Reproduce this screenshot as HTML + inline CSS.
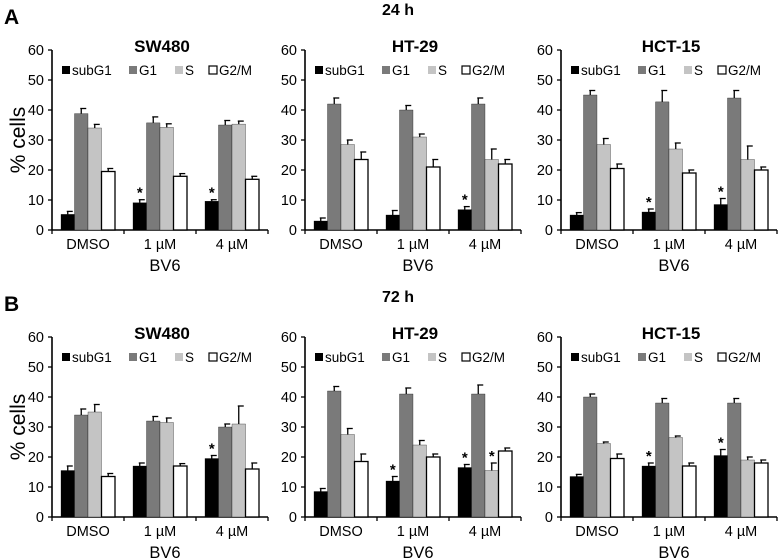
<!DOCTYPE html>
<html><head><meta charset="utf-8">
<style>
html,body{margin:0;padding:0;background:#fff;}
svg{display:block;font-family:"Liberation Sans",Arial,sans-serif;}
</style></head>
<body>
<svg id="fig" width="779" height="560" viewBox="0 0 779 560">
<text x="4" y="24" font-size="21" font-weight="bold">A</text>
<text x="398" y="15" font-size="16" font-weight="bold" text-anchor="middle">24 h</text>
<text x="4" y="311" font-size="21" font-weight="bold">B</text>
<text x="398" y="302" font-size="16" font-weight="bold" text-anchor="middle">72 h</text>
</svg>
<script>
const categories = ["DMSO","1 µM","4 µM"];
const seriesNames = ["subG1","G1","S","G2/M"];
const yTicks = [0,10,20,30,40,50,60];
const cellLines = ["SW480","HT-29","HCT-15"];
const valuesA_SW480 = [[5.2,38.8,34,19.5],[9.1,35.7,34.2,17.9],[9.6,35,35.3,16.9]];
const errorsA_SW480 = [[1,1.7,1.2,1],[1,2,1.2,0.9],[0.5,1.5,1,1]];
const starsA_SW480 = [[0,0,0,0],[1,0,0,0],[1,0,0,0]];
const valuesA_HT29 = [[3,42,28.5,23.5],[5,40,31,21],[6.8,42,23.5,22]];
const errorsA_HT29 = [[1,2,1.5,2.5],[1.5,1.5,1,2.5],[1,2,3.5,1.5]];
const starsA_HT29 = [[0,0,0,0],[0,0,0,0],[1,0,0,0]];
const valuesA_HCT15 = [[5,45,28.5,20.5],[6,42.7,27,19],[8.5,44,23.5,20]];
const errorsA_HCT15 = [[0.8,1.5,2,1.5],[1,3.8,2,1],[2,2.5,4.5,1]];
const starsA_HCT15 = [[0,0,0,0],[1,0,0,0],[1,0,0,0]];
const valuesB_SW480 = [[15.5,34,35,13.5],[17,32,31.5,17],[19.5,30,31,16]];
const errorsB_SW480 = [[1.5,2,2.5,1],[1,1.5,1.5,0.8],[1,1,6,2]];
const starsB_SW480 = [[0,0,0,0],[0,0,0,0],[1,0,0,0]];
const valuesB_HT29 = [[8.5,42,27.5,18.5],[12,41,24,20],[16.5,41,15.5,22]];
const errorsB_HT29 = [[1,1.5,2,2.5],[1.5,2,1.5,1],[1,3,2.5,1]];
const starsB_HT29 = [[0,0,0,0],[1,0,0,0],[1,0,1,0]];
const valuesB_HCT15 = [[13.5,40,24.5,19.5],[17,38,26.5,17],[20.5,38,19,18]];
const errorsB_HCT15 = [[0.7,1,0.5,1.5],[1,1.5,0.5,1],[2,1.5,1,1]];
const starsB_HCT15 = [[0,0,0,0],[1,0,0,0],[1,0,0,0]];

const colors = ["#000000","#7a7a7a","#c4c4c4","#ffffff"];
const NS = "http://www.w3.org/2000/svg";
const svg = document.getElementById("fig");
function mk(tag, attrs, parent){
  const e = document.createElementNS(NS, tag);
  for (const k in attrs) e.setAttribute(k, attrs[k]);
  (parent||svg).appendChild(e);
  return e;
}
const panels = [
  {row:"a", y0:230, titleY:52, legY:75, catY:249, bv6Y:271, data:[[valuesA_SW480,errorsA_SW480,starsA_SW480],[valuesA_HT29,errorsA_HT29,starsA_HT29],[valuesA_HCT15,errorsA_HCT15,starsA_HCT15]]},
  {row:"b", y0:517, titleY:339, legY:362, catY:536, bv6Y:558, data:[[valuesB_SW480,errorsB_SW480,starsB_SW480],[valuesB_HT29,errorsB_HT29,starsB_HT29],[valuesB_HCT15,errorsB_HCT15,starsB_HCT15]]}
];
const axisX = [52,305,561];
const groupW = 72, barW = 13.5, pxPerUnit = 3;

panels.forEach(p=>{
  const yl = mk("text",{x:25,y:p.y0-90,"font-size":21,"text-anchor":"middle",transform:`rotate(-90 25 ${p.y0-90})`});
  
  
  yl.textContent = "% cells";
  cellLines.forEach((cl,ci)=>{
    const ax = axisX[ci];
    const yS = v => p.y0 - v*pxPerUnit;
    const xG = g => ax + g*groupW + groupW/2;
    const g = mk("g",{});
    
    
    const t = mk("text",{x:ax+110,y:p.titleY,"font-size":17,"font-weight":"bold","text-anchor":"middle"},g);
    
    
    t.textContent = cl;
    const yaxis = mk("line",{x1:ax,x2:ax,y1:yS(60),y2:p.y0,stroke:"#000","stroke-width":1.6},g);
    
    
    const xaxis = mk("line",{x1:ax,x2:ax+groupW*3,y1:p.y0,y2:p.y0,stroke:"#000","stroke-width":1.6},g);
    
    
    yTicks.forEach(v=>{
      mk("line",{x1:ax-4,x2:ax,y1:yS(v),y2:yS(v),stroke:"#000","stroke-width":1.3},g);
      const tl = mk("text",{x:ax-8,y:yS(v)+5,"font-size":14.5,"text-anchor":"end"},g);
      
      
      tl.textContent = v;
    });
    for (let k=0;k<=3;k++){
      mk("line",{x1:ax+k*groupW,x2:ax+k*groupW,y1:p.y0,y2:p.y0+4,stroke:"#000","stroke-width":1.3},g);
    }
    categories.forEach((c,gi)=>{
      const cl2 = mk("text",{x:xG(gi),y:p.catY,"font-size":14.5,"text-anchor":"middle"},g);
      
      
      cl2.textContent = c;
    });
    const bv = mk("text",{x:xG(1)+5,y:p.bv6Y,"font-size":16.5,"text-anchor":"middle"},g);
    
    
    bv.textContent = "BV6";
    const legX = [ax+10, ax+77, ax+123, ax+157];
    seriesNames.forEach((s,si)=>{
      const le = mk("g",{},g);
      
      
      mk("rect",{x:legX[si],y:p.legY-9,width:8,height:8,fill:colors[si],stroke:si==3?"#000":"none","stroke-width":1.2},le);
      const lt = mk("text",{x:legX[si]+10,y:p.legY,"font-size":13.5},le);
      lt.textContent = s;
    });
    const [vals, errs, stars] = p.data[ci];
    vals.forEach((row,gi)=>{
      row.forEach((v,si)=>{
        const bx = xG(gi) - 2*barW + si*barW;
        const b = mk("rect",{x:bx,y:yS(v),width:barW,height:v*pxPerUnit,fill:colors[si],stroke:"#000","stroke-width":si==3?1.3:0.3},g);
        
        
        const ex = bx + barW/2, ey = yS(v+errs[gi][si]);
        mk("line",{x1:ex,x2:ex,y1:yS(v),y2:ey,stroke:"#000","stroke-width":1.3},g);
        mk("line",{x1:ex-1,x2:ex+5,y1:ey,y2:ey,stroke:"#000","stroke-width":1.3},g);
        if (stars[gi][si]){
          const st = mk("text",{x:ex,y:ey-2,"font-size":15,"font-weight":"bold","text-anchor":"middle"},g);
          
          
          st.textContent = "*";
        }
      });
    });
  });
});
</script>
</body></html>
